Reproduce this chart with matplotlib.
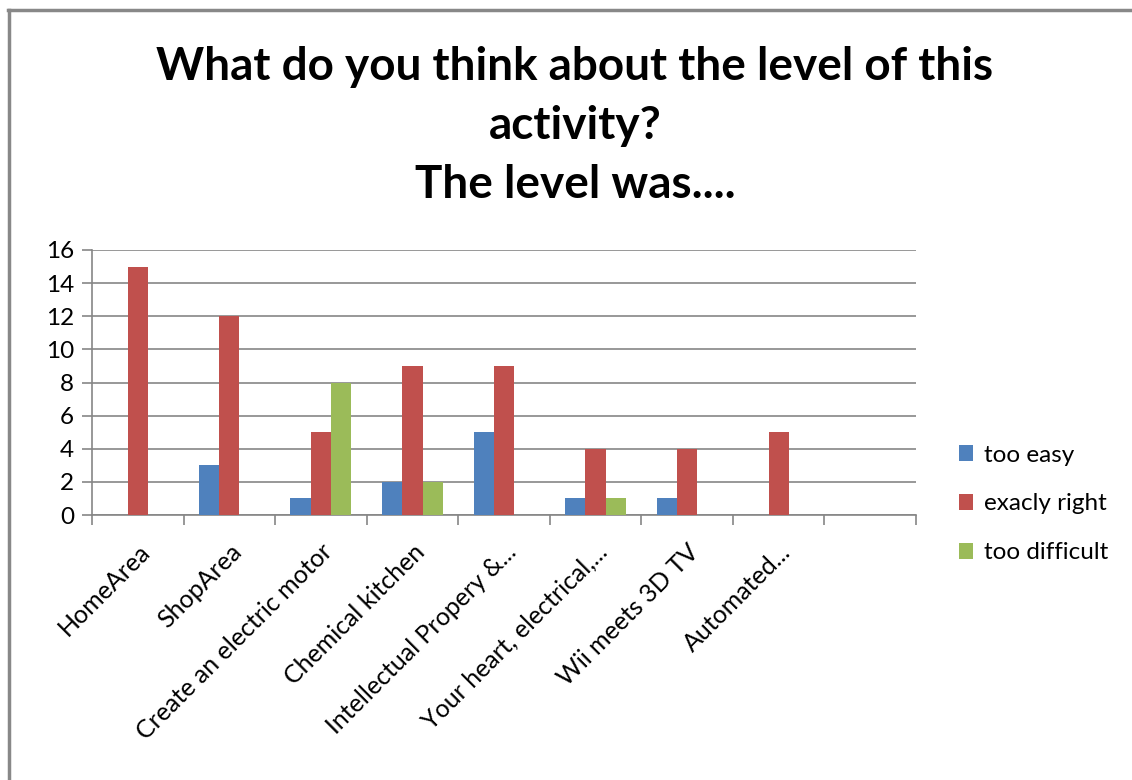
import numpy as np
import matplotlib.pyplot as plt
from matplotlib.lines import Line2D

#===============================
categories = ['HomeArea', 'ShopArea', 'Create an electric motor', 'Chemical kitchen',
              'Intellectual Propery &...', 'Your heart, electrical,...', 'Wii meets 3D TV',
              'Automated...', '']
too_easy = [0, 3, 1, 2, 5, 1, 1, 0, 0]
exacly_right = [15, 12, 5, 9, 9, 4, 4, 5, 0]
too_difficult = [0, 0, 8, 2, 0, 1, 0, 0, 0]
series_names = ['too easy', 'exacly right', 'too difficult']
yticks = [0, 2, 4, 6, 8, 10, 12, 14, 16]

plt.rcParams['font.family'] = ['Lato', 'DejaVu Sans']

fig = plt.figure(figsize=(11.32, 7.8), dpi=100)
ax = fig.add_axes([92/1132, 1-515/780, 824/1132, 265/780])

n = len(categories)
x = np.arange(n)
w = 0.222
colors = ['#4F81BD', '#C0504D', '#9BBB59']
for i, (vals, name) in enumerate(zip([too_easy, exacly_right, too_difficult], series_names)):
  ax.bar(x + (i - 1) * w, vals, w, color=colors[i], label=name, zorder=3)

ax.set_xlim(-0.5, n - 0.5)
ax.set_ylim(0, 16)
ax.set_yticks(yticks)
ax.yaxis.grid(True, color='#868686', linewidth=1.2, zorder=0)
for s in ['top', 'right']:
  ax.spines[s].set_visible(False)
for s in ['left', 'bottom']:
  ax.spines[s].set_color('#868686')
  ax.spines[s].set_linewidth(1.2)

ax.set_xticks(np.arange(n + 1) - 0.5)
ax.set_xticklabels([])
ax.set_xticks(x, minor=True)
ax.set_xticklabels(categories, minor=True, rotation=45, ha='right',
                   rotation_mode='anchor', fontsize=18)
ax.tick_params(axis='x', which='minor', length=0, pad=18)
ax.tick_params(axis='x', which='major', length=7, color='#868686', width=1.2)
ax.tick_params(axis='y', length=7, color='#868686', width=1.2, labelsize=17.5, pad=6)

fig.text(0.508, 0.838, 'What do you think about the level of this\nactivity?\nThe level was....',
         ha='center', va='center', fontsize=33, fontweight='bold', linespacing=1.5)

fig.legend(loc='center left', bbox_to_anchor=(937/1132, 1-504/780), frameon=False,
           fontsize=17.5, handlelength=0.6, handleheight=0.6, labelspacing=1.15,
           handletextpad=0.45)

# outer frame
fig.add_artist(Line2D([8/1132, 1], [1-10/780, 1-10/780], color='#888888', linewidth=2.5,
                      transform=fig.transFigure))
fig.add_artist(Line2D([9/1132, 9/1132], [0, 1-10/780], color='#888888', linewidth=2.5,
                      transform=fig.transFigure))

plt.savefig('out.png', dpi=100)
